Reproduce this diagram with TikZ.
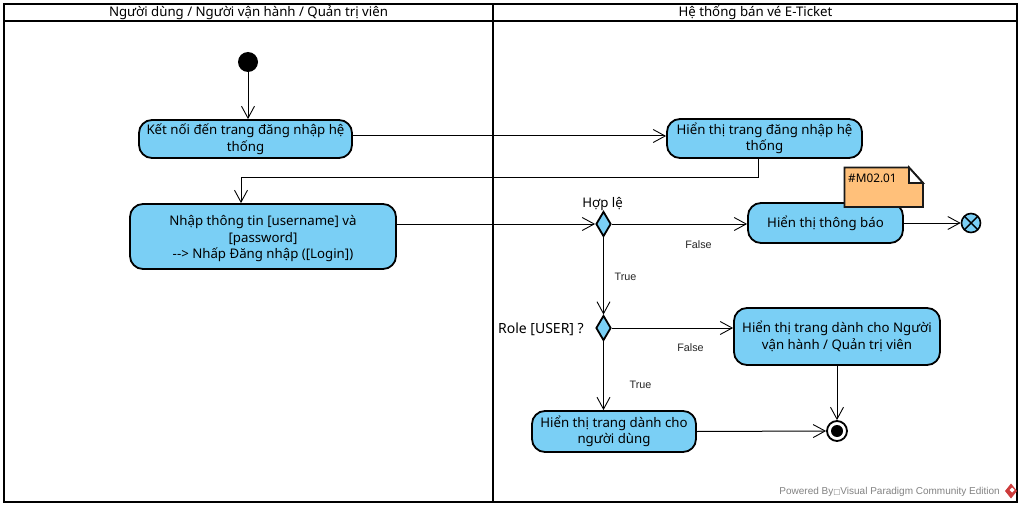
\documentclass[tikz,border=0pt]{standalone}
\usepackage{fontspec}
\setmainfont{Noto Sans}
\newfontfamily\lblfont{Liberation Sans}
\newfontfamily\dvfont{DejaVu Sans}
\usetikzlibrary{arrows.meta,shapes.geometric,positioning,calc}
\definecolor{vpblue}{RGB}{122,207,245}
\definecolor{vpnote}{RGB}{255,192,122}
\definecolor{vpgray}{RGB}{130,130,130}
\definecolor{vpred}{RGB}{205,60,60}
\tikzset{
  lane/.style={draw=black,line width=2pt,fill=none},
  act/.style={draw=black,line width=1.8pt,fill=vpblue,rounded corners=13pt,align=center,font=\fontsize{13.25}{16.5}\selectfont,inner sep=0pt,text=black},
  dec/.style={draw=black,line width=1.8pt,fill=vpblue,diamond,inner sep=0pt,minimum width=15pt,minimum height=25pt,aspect=0.6},
  flow/.style={draw=black,line width=1pt,-{Straight Barb[length=12pt,width=13pt,line width=0.9pt]}},
  guard/.style={font=\lblfont\fontsize{10.8}{13}\selectfont,text=black!85,inner sep=0pt},
  captext/.style={font=\fontsize{13.25}{16}\selectfont,inner sep=0pt,text=black},
}
\begin{document}
\begin{tikzpicture}[x=1pt,y=-1pt]
\useasboundingbox (0,0) rectangle (1023,508);
\fill[white] (0,0) rectangle (1023,508);
% swimlanes
\draw[lane] (4,4) rectangle (1017,502);
\draw[lane] (4,21.5) -- (1017,21.5);
\draw[lane] (493,4) -- (493,502);
\node[captext] (h1) at (248.5,13) {Người dùng / Người vận hành / Quản trị viên};
\node[captext] (h2) at (755.5,13) {Hệ thống bán vé E-Ticket};
% nodes
\node[circle,fill=black,minimum size=20pt,inner sep=0pt] (start) at (248,62) {};
\node[act,minimum width=213pt,minimum height=38pt] (a) at (245.5,139) {Kết nối đến trang đăng nhập hệ\\thống};
\node[act,minimum width=195pt,minimum height=39pt] (b) at (764.5,138.5) {Hiển thị trang đăng nhập hệ\\thống};
\node[act,minimum width=266pt,minimum height=65pt,text depth=0pt] (c) at (263,236.5) {\raisebox{-1pt}{Nhập thông tin [username] và}\\\raisebox{-1pt}{[password]}\\\raisebox{-1pt}{-\kern0pt-\kern0pt> Nhấp Đăng nhập ([Login])}};
\node[dec] (d1) at (603.5,224) {};
\node[dec] (d2) at (603.5,328) {};
\node[act,minimum width=155pt,minimum height=40pt] (n) at (825.5,223) {\raisebox{-1pt}{Hiển thị thông báo}};
\node[act,minimum width=206pt,minimum height=57pt] (adm) at (837,336.5) {Hiển thị trang dành cho Người\\vận hành / Quản trị viên};
\node[act,minimum width=164pt,minimum height=41pt] (usr) at (614,431.5) {Hiển thị trang dành cho\\người dùng};
\node[circle,draw=black,line width=1.6pt,fill=vpblue,minimum size=19pt,inner sep=0pt] (fe) at (971,223) {};
\draw[black,line width=1.4pt] ($(fe)+(-6.7,-6.7)$) -- ($(fe)+(6.7,6.7)$) ($(fe)+(-6.7,6.7)$) -- ($(fe)+(6.7,-6.7)$);
\node[circle,draw=black,line width=1.8pt,fill=white,minimum size=20pt,inner sep=0pt] (fin) at (837,431) {};
\fill[black] (fin) circle (6pt);
% note
\draw[line width=1.8pt,fill=vpnote,draw=black!90] (844.5,167.5) -- (909,167.5) -- (923,183) -- (923,207) -- (844.5,207) -- cycle;
\draw[line width=1.8pt,fill=white,draw=black!90] (909,167.5) -- (923,183) -- (909,183) -- cycle;
\node[font=\fontsize{11.8}{14}\selectfont,anchor=west,inner sep=0pt,text=black] (nt) at (848,178.5) {\#M02.01};
% labels
\node[captext] (l1) at (602.5,204) {Hợp lệ};
\node[captext,font=\fontsize{14}{16}\selectfont,anchor=east] (l2) at (584,329.5) {Role [USER] ?};
\node[guard] (g1) at (698.5,245) {False};
\node[guard] (g2) at (625.5,276.5) {True};
\node[guard] (g3) at (690.5,347.5) {False};
\node[guard] (g4) at (640.5,384.5) {True};
% connectors
\coordinate (abend) at (758,178);
\coordinate (cin) at (241,178);
\draw[flow] (start) -- (a.north -| start);
\draw[flow] (a.east |- 0,136) -- (b.west |- 0,136);
\draw[flow,rounded corners=0pt] (b.south -| abend) -- (abend) -- (cin) -- (c.north -| cin);
\draw[flow] (c.east |- d1) -- (d1.west);
\draw[flow] (d1.east) -- (n.west |- d1);
\draw[flow] (d1.south) -- (d2.north);
\draw[flow] (d2.east) -- (adm.west |- d2);
\draw[flow] (d2.south) -- (usr.north -| d2);
\draw[flow] (n.east) -- (fe.west);
\draw[flow] (adm.south -| fin) -- (fin.north);
\draw[flow] (usr.east) -- (fin.west);
% watermark
\node[anchor=east,font=\lblfont\fontsize{10}{12}\selectfont,text=vpgray,inner sep=0pt] (wm) at (1000,491.5) {Powered By{\dvfont\fontsize{7.5}{9}\selectfont □}Visual Paradigm Community Edition};
\fill[vpred] (1011,483.5) -- (1017,491) -- (1011,498.5) -- (1005,491) -- cycle;
\fill[white] (1012,487.5) -- (1014.5,490) -- (1012,492.5) -- (1009.5,490) -- cycle;
\end{tikzpicture}
\end{document}
